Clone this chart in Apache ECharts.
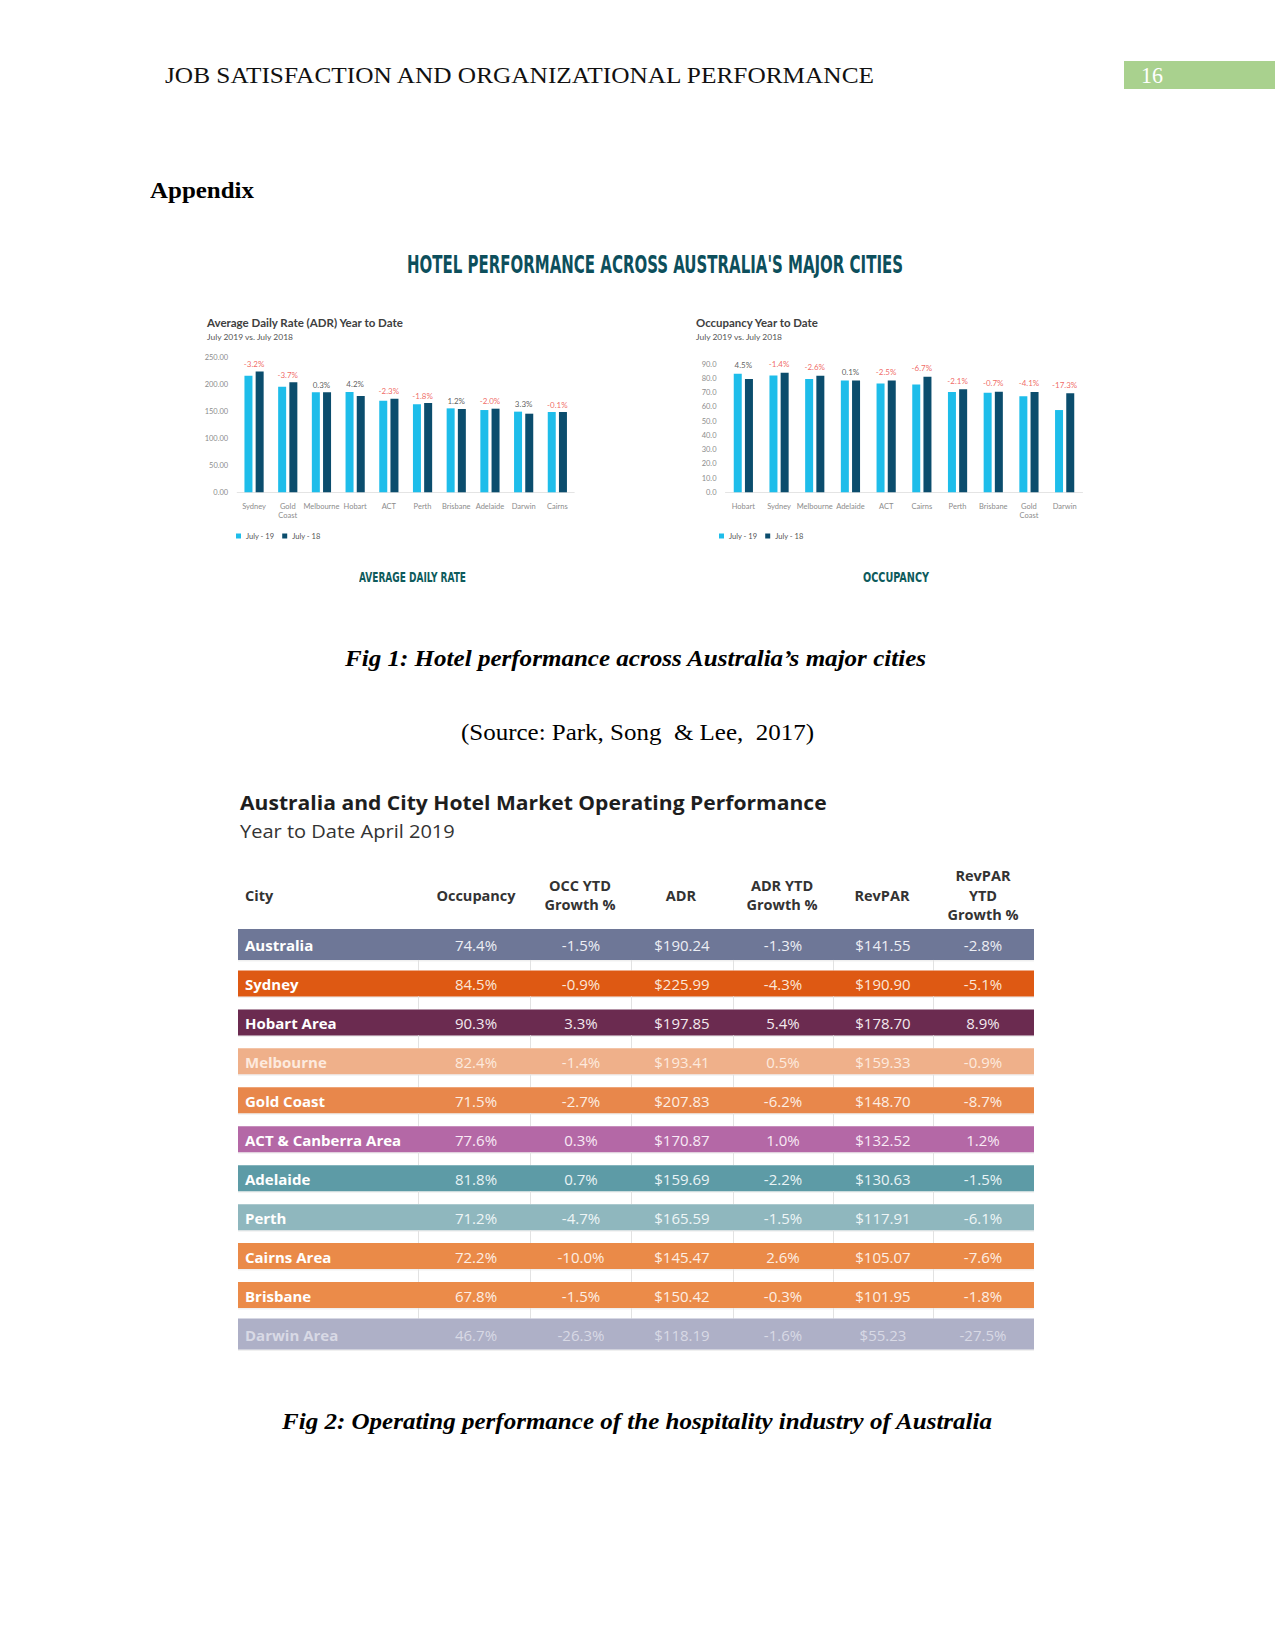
<!DOCTYPE html>
<html><head><meta charset="utf-8">
<script src="https://cdn.jsdelivr.net/npm/echarts@6/dist/echarts.min.js"></script>
<style>
html,body{margin:0;padding:0;background:#fff;}
#page{position:relative;width:1275px;height:1651px;overflow:hidden;background:#fff;}
#chart{position:absolute;left:0;top:0;width:1275px;height:1651px;}
.t{position:absolute;white-space:nowrap;transform-origin:0 50%;line-height:1;display:inline-block;}
.serif{font-family:'Liberation Serif','Times New Roman',serif;}
.cond{font-family:'Liberation Sans Narrow','DejaVu Sans Condensed','Roboto',sans-serif;font-stretch:condensed;font-weight:700;}
</style></head><body>
<div id="page">
<div id="chart"></div>
<div style="position:absolute;left:1124px;top:61px;width:151px;height:28px;background:#a9d18e;"></div>
<span class="t serif" data-x="165" data-cy="75" data-w="709" style="font-size:24px;color:#111;">JOB SATISFACTION AND ORGANIZATIONAL PERFORMANCE</span>
<span class="t serif" data-x="1141" data-cy="75" data-w="22" style="font-size:24px;color:#fff;">16</span>
<span class="t serif" data-x="150" data-cy="190" data-w="104" style="font-size:24px;font-weight:bold;color:#000;">Appendix</span>
<span class="t cond" data-x="407" data-cy="264" data-w="496" style="font-size:25px;color:#0d4f5c;">HOTEL PERFORMANCE ACROSS AUSTRALIA'S MAJOR CITIES</span>
<span class="t cond" data-x="359" data-cy="577" data-w="107" style="font-size:14px;color:#0e5b5c;">AVERAGE DAILY RATE</span>
<span class="t cond" data-x="863" data-cy="577" data-w="66" style="font-size:14px;color:#0e5b5c;">OCCUPANCY</span>
<span class="t serif" data-x="345" data-cy="658" data-w="581" style="font-size:24px;font-weight:bold;font-style:italic;color:#000;">Fig 1: Hotel performance across Australia’s major cities</span>
<span class="t serif" data-x="461" data-cy="732" data-w="353" style="font-size:24px;color:#000;white-space:pre;">(Source: Park, Song  &amp; Lee,  2017)</span>
<span class="t serif" data-x="282" data-cy="1421" data-w="710" style="font-size:24px;font-weight:bold;font-style:italic;color:#000;">Fig 2: Operating performance of the hospitality industry of Australia</span>
</div>
<script>
// ---------- Data ----------
const adrCities = ['Sydney','Gold\nCoast','Melbourne','Hobart','ACT','Perth','Brisbane','Adelaide','Darwin','Cairns'];
const adrJuly19 = [216.6,196.2,185.6,186.3,170.2,163.4,155.9,152.8,149.8,149.1];
const adrJuly18 = [224.6,204.2,185.6,178.8,173.9,165.8,154.7,155.3,146.0,149.1];
const adrGrowth = ['-3.2%','-3.7%','0.3%','4.2%','-2.3%','-1.8%','1.2%','-2.0%','3.3%','-0.1%'];
const adrTicks = [0,50,100,150,200,250];

const occCities = ['Hobart','Sydney','Melbourne','Adelaide','ACT','Cairns','Perth','Brisbane','Gold\nCoast','Darwin'];
const occJuly19 = [83.2,82.0,79.5,78.5,76.4,75.7,70.4,69.9,67.3,57.7];
const occJuly18 = [79.5,83.9,81.8,78.5,78.5,81.1,72.2,70.6,70.4,69.4];
const occGrowth = ['4.5%','-1.4%','-2.6%','0.1%','-2.5%','-6.7%','-2.1%','-0.7%','-4.1%','-17.3%'];
const occTicks = [0,10,20,30,40,50,60,70,80,90];

const seriesNames = ['July - 19','July - 18'];

const tableColumns = ['City','Occupancy','OCC YTD\nGrowth %','ADR','ADR YTD\nGrowth %','RevPAR','RevPAR\nYTD\nGrowth %'];
const tableCities = ['Australia','Sydney','Hobart Area','Melbourne','Gold Coast','ACT & Canberra Area','Adelaide','Perth','Cairns Area','Brisbane','Darwin Area'];
const tOccupancy = ['74.4%','84.5%','90.3%','82.4%','71.5%','77.6%','81.8%','71.2%','72.2%','67.8%','46.7%'];
const tOccGrowth = ['-1.5%','-0.9%','3.3%','-1.4%','-2.7%','0.3%','0.7%','-4.7%','-10.0%','-1.5%','-26.3%'];
const tADR = ['$190.24','$225.99','$197.85','$193.41','$207.83','$170.87','$159.69','$165.59','$145.47','$150.42','$118.19'];
const tADRGrowth = ['-1.3%','-4.3%','5.4%','0.5%','-6.2%','1.0%','-2.2%','-1.5%','2.6%','-0.3%','-1.6%'];
const tRevPAR = ['$141.55','$190.90','$178.70','$159.33','$148.70','$132.52','$130.63','$117.91','$105.07','$101.95','$55.23'];
const tRevPARGrowth = ['-2.8%','-5.1%','8.9%','-0.9%','-8.7%','1.2%','-1.5%','-6.1%','-7.6%','-1.8%','-27.5%'];

// ---------- Styles ----------
const LIGHT = '#1ebdea', DARK = '#0b4d6d', RED = '#ec3f3c', POS = '#333333';
const rowColors = ['#6e7797','#de5913','#6b2b50','#efb08a','#e8874b','#b468a6','#5d9ba6','#8fb7be','#ea8a48','#eb8b49','#aeb0c7'];
const rowText = ['#eceef4','#fbe6d8','#f3e9ee','#fdeade','#fdeee3','#f8eaf5','#e9f3f5','#eef5f6','#fdeee3','#fdeee3','#d8d9e5'];
const LATO = 'Lato, "Open Sans", sans-serif';
const OS = '"Open Sans", sans-serif';

// HTML text fitting
document.querySelectorAll('.t').forEach(el => {
  const x = +el.dataset.x, cy = +el.dataset.cy;
  const r = el.getBoundingClientRect();
  el.style.left = x + 'px';
  el.style.top = (cy - r.height / 2) + 'px';
  if (el.dataset.w) el.style.transform = 'scaleX(' + (+el.dataset.w / r.width) + ')';
});

const mctx = document.createElement('canvas').getContext('2d');
function fitText(text, font, x, y, target, fill) {
  mctx.font = font;
  const w = mctx.measureText(text).width;
  return {type:'text', x:x, y:y, scaleX: target / w,
    style:{text:text, font:font, fill:fill, align:'left', verticalAlign:'middle'}};
}

const graphics = [
  fitText('Average Daily Rate (ADR) Year to Date', 'bold 10.5px ' + LATO, 207, 323, 197, '#404040'),
  fitText('July 2019 vs. July 2018', '8.5px ' + LATO, 207, 337, 87, '#555'),
  fitText('Occupancy Year to Date', 'bold 10.5px ' + LATO, 696, 323, 123, '#404040'),
  fitText('July 2019 vs. July 2018', '8.5px ' + LATO, 696, 337, 87, '#555'),
  fitText('Australia and City Hotel Market Operating Performance', 'bold 19px ' + OS, 240, 803, 587, '#1e1e1e'),
  fitText('Year to Date April 2019', '17.5px ' + OS, 240, 831, 215, '#333')
];
const headerX = [245, 476, 580, 681, 782, 882, 983];
tableColumns.forEach((c, i) => {
  graphics.push({type:'text', x: headerX[i], y: 895,
    style:{text:c, font:'bold 14.5px ' + OS, fill:'#333', align: i === 0 ? 'left' : 'center', verticalAlign:'middle', lineHeight:19.5}});
});

function labelData(a, b, g) {
  return a.map((v, i) => ({value: Math.max(v, b[i]),
    label:{color: g[i].charAt(0) === '-' ? RED : POS}}));
}

const colFrac = [476, 581, 682, 783, 883, 983].map(v => (v - 238) / 796);
const sepFrac = [418, 530, 631, 733, 833, 933].map(v => (v - 238) / 796);
const tableCols = [tOccupancy, tOccGrowth, tADR, tADRGrowth, tRevPAR, tRevPARGrowth];
const nRows = tableCities.length;
function bandH(i) { return (i === 0 || i === nRows - 1) ? 31 : 26; }

function renderRow(params, api) {
  const i = params.dataIndex;
  const cs = params.coordSys;
  const cy = api.coord([0, i])[1];
  const h = bandH(i);
  const children = [];
  children.push({type:'rect', shape:{x:cs.x, y:cy - h/2, width:cs.width, height:h}, style:{fill:rowColors[i]}});
  children.push({type:'rect', shape:{x:cs.x, y:cy + h/2, width:cs.width, height:1.5}, style:{fill:'rgba(0,0,0,0.06)'}});
  children.push({type:'text', x: cs.x + 7, y: cy + 1,
    style:{text: tableCities[i], font:'bold 15px ' + OS, fill: i === 3 || i === 10 ? rowText[i] : '#ffffff', align:'left', verticalAlign:'middle'}});
  tableCols.forEach((col, k) => {
    children.push({type:'text', x: cs.x + cs.width * colFrac[k], y: cy + 1,
      style:{text: col[i], font:'15px ' + OS, fill: rowText[i], align:'center', verticalAlign:'middle'}});
  });
  if (i < nRows - 1) {
    const cy2 = api.coord([0, i + 1])[1];
    const y1 = cy + h/2, y2 = cy2 - bandH(i + 1)/2;
    sepFrac.forEach(f => {
      const x = Math.round(cs.x + cs.width * f) + 0.5;
      children.push({type:'line', shape:{x1:x, y1:y1, x2:x, y2:y2}, style:{stroke:'#e2e2e2', lineWidth:1}});
    });
  }
  return {type:'group', children: children};
}

const axisLabelStyle = {fontSize:7.5, color:'#8c8c8c', fontFamily: LATO};
const chart = echarts.init(document.getElementById('chart'), null, {renderer:'svg'});
chart.setOption({
  animation:false,
  graphic: graphics,
  legend: [
    {data: seriesNames, left:236, top:532, padding:0, itemWidth:5, itemHeight:5, itemGap:8, icon:'rect',
     textStyle:{fontSize:7.5, color:'#555', fontFamily: LATO}},
    {data: seriesNames, left:719, top:532, padding:0, itemWidth:5, itemHeight:5, itemGap:8, icon:'rect',
     textStyle:{fontSize:7.5, color:'#555', fontFamily: LATO}}
  ],
  grid: [
    {left:237.2, top:357.7, width:337, height:134.6},
    {left:725.5, top:364, width:357, height:128.3},
    {left:238, top:925, width:796, height:428.5}
  ],
  xAxis: [
    {gridIndex:0, type:'category', data:adrCities, axisTick:{show:false},
     axisLine:{lineStyle:{color:'#e4e4e4'}}, axisLabel:Object.assign({interval:0, margin:10, lineHeight:9}, axisLabelStyle)},
    {gridIndex:1, type:'category', data:occCities, axisTick:{show:false},
     axisLine:{lineStyle:{color:'#e4e4e4'}}, axisLabel:Object.assign({interval:0, margin:10, lineHeight:9}, axisLabelStyle)},
    {gridIndex:2, type:'value', min:0, max:1, show:false}
  ],
  yAxis: [
    {gridIndex:0, type:'value', min:adrTicks[0], max:adrTicks[adrTicks.length-1], interval:adrTicks[1]-adrTicks[0],
     splitLine:{show:false}, axisLine:{show:false}, axisTick:{show:false},
     axisLabel:Object.assign({margin:9, formatter: v => v.toFixed(2)}, axisLabelStyle)},
    {gridIndex:1, type:'value', min:occTicks[0], max:occTicks[occTicks.length-1], interval:occTicks[1]-occTicks[0],
     splitLine:{show:false}, axisLine:{show:false}, axisTick:{show:false},
     axisLabel:Object.assign({margin:9, formatter: v => v.toFixed(1)}, axisLabelStyle)},
    {gridIndex:2, type:'category', data:tableCities, inverse:true, show:false}
  ],
  series: [
    {name:seriesNames[0], type:'bar', xAxisIndex:0, yAxisIndex:0, data:adrJuly19, barWidth:8, barGap:'40%', itemStyle:{color:LIGHT}},
    {name:seriesNames[1], type:'bar', xAxisIndex:0, yAxisIndex:0, data:adrJuly18, barWidth:8, barGap:'40%', itemStyle:{color:DARK}},
    {type:'scatter', xAxisIndex:0, yAxisIndex:0, data:labelData(adrJuly19, adrJuly18, adrGrowth), symbolSize:1, silent:true,
     itemStyle:{color:'rgba(0,0,0,0)'}, z:5,
     label:{show:true, position:'top', distance:3, fontSize:8, fontFamily:LATO, formatter: p => adrGrowth[p.dataIndex]}},
    {name:seriesNames[0], type:'bar', xAxisIndex:1, yAxisIndex:1, data:occJuly19, barWidth:8, barGap:'40%', itemStyle:{color:LIGHT}},
    {name:seriesNames[1], type:'bar', xAxisIndex:1, yAxisIndex:1, data:occJuly18, barWidth:8, barGap:'40%', itemStyle:{color:DARK}},
    {type:'scatter', xAxisIndex:1, yAxisIndex:1, data:labelData(occJuly19, occJuly18, occGrowth), symbolSize:1, silent:true,
     itemStyle:{color:'rgba(0,0,0,0)'}, z:5,
     label:{show:true, position:'top', distance:4, fontSize:8, fontFamily:LATO, formatter: p => occGrowth[p.dataIndex]}},
    {type:'custom', xAxisIndex:2, yAxisIndex:2, clip:false, silent:true,
     data: tableCities.map((c, i) => [0, i]), renderItem: renderRow}
  ]
});
</script>
</body></html>
